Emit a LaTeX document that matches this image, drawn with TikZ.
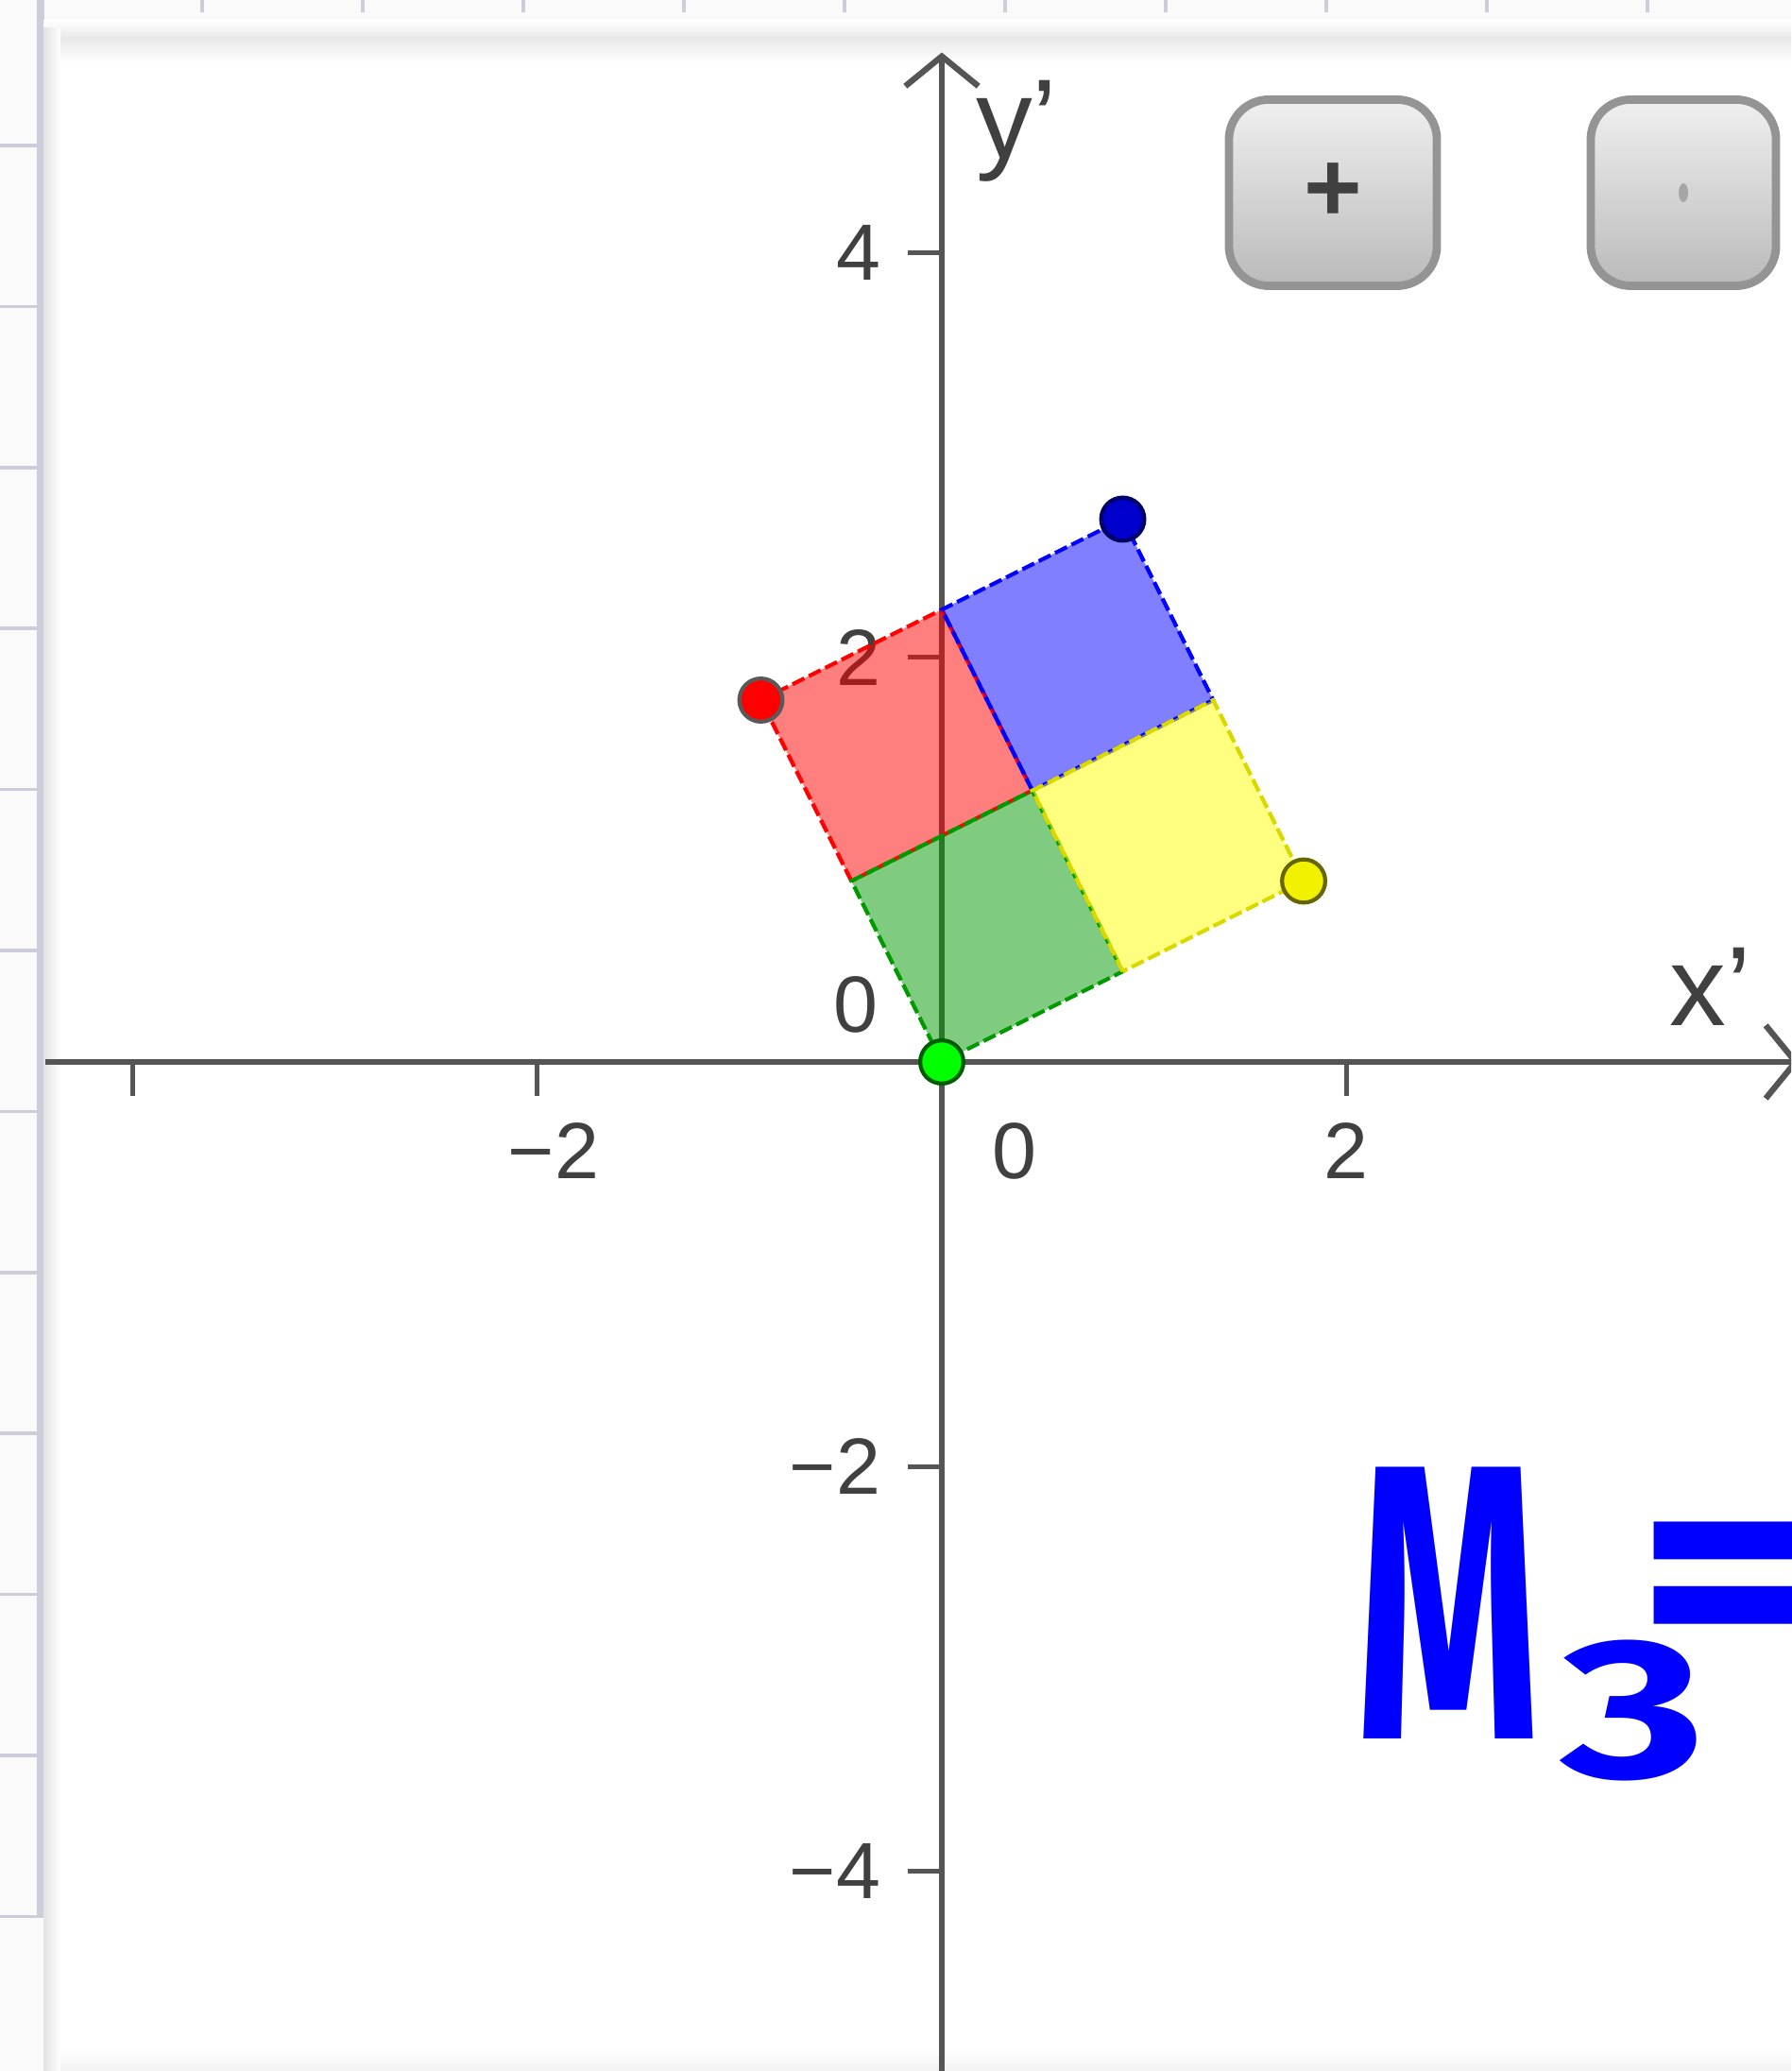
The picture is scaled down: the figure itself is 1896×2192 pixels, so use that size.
\documentclass[tikz,border=0pt]{standalone}
\usepackage{fontspec}
\setmainfont{Liberation Sans}
\newfontfamily\penfont{Fira Sans}
\usetikzlibrary{arrows.meta}
\definecolor{rulerline}{RGB}{204,204,218}
\definecolor{axisgray}{RGB}{85,85,85}
\definecolor{ggred}{RGB}{255,0,0}
\definecolor{ggblue}{RGB}{0,0,255}
\definecolor{ggyellow}{RGB}{255,255,0}
\definecolor{gggreen}{RGB}{0,153,0}
\definecolor{penblue}{RGB}{0,0,255}
\tikzset{
  axis line/.style={
    line width=1.8pt,
    color=axisgray,
    -{Straight Barb[length=9pt, width=22pt]}
  },
  tick mark/.style={
    line width=1.5pt,
    color=axisgray
  },
  tick label/.style={
    font=\fontsize{24}{24}\selectfont,
    color=black!75,
    inner sep=0pt
  },
  axis name/.style={
    font=\fontsize{34}{34}\selectfont,
    color=black!75,
    inner sep=0pt
  },
  cell/.style={
    fill opacity=0.5,
    line width=1.2pt,
    dash pattern=on 4pt off 1.5pt
  },
  vertex dot/.style={
    circle,
    draw=black!65,
    line width=1.2pt,
    inner sep=0pt,
    minimum size=13pt
  },
  zoom button/.style={
    rounded corners=12pt,
    top color=black!6,
    bottom color=black!27,
    draw=black!42,
    line width=2.5pt,
    minimum height=1.97cm
  },
  ruler/.style={
    color=rulerline,
    line width=1pt
  },
  pen text/.style={
    color=penblue,
    inner sep=0pt
  }
}

\begin{document}
\begin{tikzpicture}[x=0.01cm, y=-0.01cm]
    \useasboundingbox (0,0) rectangle (1896,2192);
    \clip (0,0) rectangle (1896,2192);

    % window frame and rulers
    \fill[black!2] (0,0) rectangle (1896,2192);
    \fill[white] (46,30) rectangle (1896,2192);
    \foreach \i in {0,...,9} {
      \draw[ruler] ({214+170*\i},0) -- ++(0,13);
    }
    \foreach \i in {0,...,11} {
      \draw[ruler] (0,{154+170.4*\i}) -- (46,{154+170.4*\i});
    }
    \draw[ruler, line width=2pt] (43,0) -- (43,2028);
    \shade[top color=white, bottom color=black!9] (46,22) rectangle (1896,40);
    \shade[top color=black!9, bottom color=white] (46,40) rectangle (1896,66);
    \shade[left color=black!11, right color=white] (46,30) rectangle (64,2192);
    \shade[top color=white, bottom color=black!5] (64,2168) rectangle (1896,2192);

    % zoom buttons
    \node[zoom button, minimum width=2.2cm, font=\fontsize{30}{30}\selectfont\bfseries, text=black!75] (zoomin) at (1411,204) {+};
    \node[zoom button, minimum width=1.96cm] (zoomout) at (1782,204) {};
    \fill[black!35] (zoomout.center) ellipse [x radius=5, y radius=10];

    % coordinate plane
    \begin{scope}[shift={(997,1124)}, x=2.14cm, y=2.14cm]
      % axes
      \draw[axis line] (-4.43,0) -- (4.24,0);
      \draw[axis line] (0,-5.2) -- (0,4.99);
      \foreach \y in {-4,-2,2,4} {
        \draw[tick mark] (0,\y) -- (-0.17,\y);
      }
      \foreach \x in {-4,-2,2} {
        \draw[tick mark] (\x,0) -- (\x,-0.17);
      }

      % tick labels
      \node[tick label, anchor=east] (ylabfour) at (-0.30,4) {4};
      \node[tick label, anchor=east] (ylabtwo) at (-0.30,2) {2};
      \node[tick label, anchor=east] (ylabmtwo) at (-0.30,-2) {−2};
      \node[tick label, anchor=east] (ylabmfour) at (-0.30,-4) {−4};
      \node[tick label] (ylabzero) at (-0.425,0.285) {0};
      \node[tick label] (xlabmtwo) at (-1.92,-0.44) {−2};
      \node[tick label] (xlabzero) at (0.36,-0.44) {0};
      \node[tick label] (xlabtwo) at (2.0,-0.44) {2};
      \node[axis name] (xname) at (3.80,0.37) {x'};
      \node[axis name] (yname) at (0.37,4.60) {y'};

      % rotated unit square, four cells
      \begin{scope}[rotate=26.565]
        \filldraw[cell, fill=ggred, draw=ggred] (0,1) rectangle (1,2);
        \filldraw[cell, fill=ggblue, draw=ggblue] (1,1) rectangle (2,2);
        \filldraw[cell, fill=gggreen, draw=gggreen] (0,0) rectangle (1,1);
        \filldraw[cell, fill=ggyellow, draw=ggyellow!85!black] (1,0) rectangle (2,1);

        \node[vertex dot, fill=ggred] (rdot) at (0,2) {};
        \node[vertex dot, fill=ggblue!80!black, draw=ggblue!40!black] (bdot) at (2,2) {};
        \node[vertex dot, fill=ggyellow!95!black, draw=black!60!ggyellow] (ydot) at (2,0) {};
        \node[vertex dot, fill=green, draw=gggreen!60!black] (gdot) at (0,0) {};
      \end{scope}
    \end{scope}

    % handwritten matrix name
    \node[pen text, font=\penfont\bfseries\fontsize{118}{118}\selectfont] (mletter) at (1533,1697) {\scalebox{0.6}[1]{M}};
    \node[pen text, font=\penfont\bfseries\fontsize{60}{60}\selectfont] (msub) at (1729,1810) {\scalebox{1.4}[1]{3}};
    \node[pen text, font=\penfont\bfseries\fontsize{93}{93}\selectfont, anchor=south west] (mequal) at (1727,1718) {\raisebox{-16pt}[30pt][0pt]{\scalebox{1.5}[1]{=}}};

  \end{tikzpicture}
\end{document}
